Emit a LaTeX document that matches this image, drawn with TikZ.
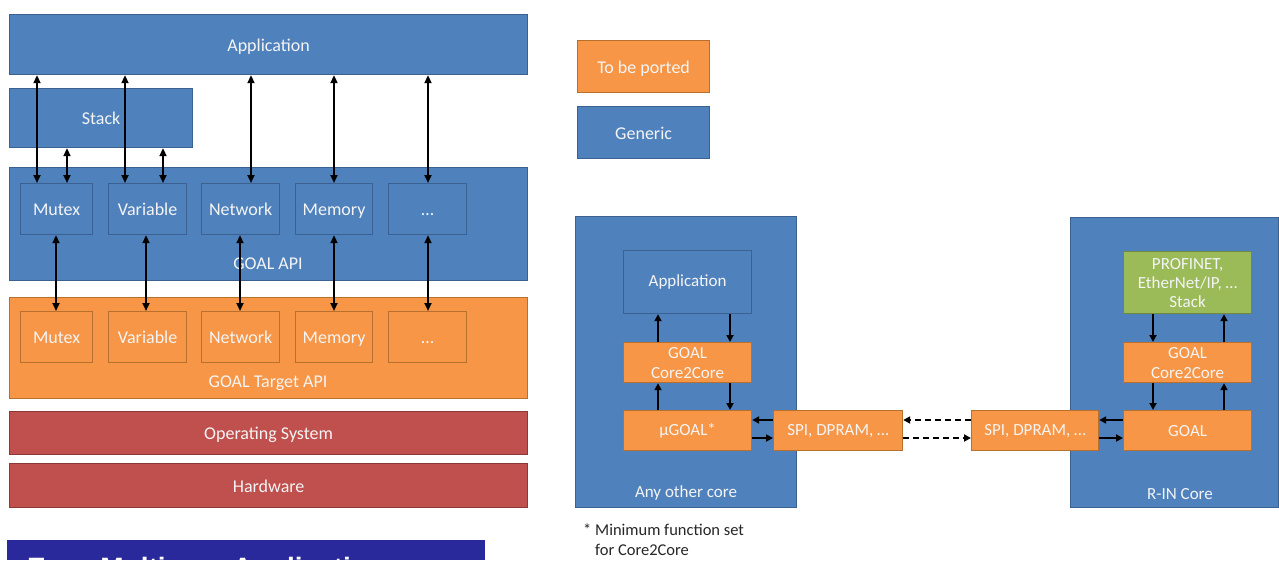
\documentclass[tikz,border=0pt]{standalone}
\usepackage{fontspec}
\setmainfont{Carlito}
\newfontfamily\titlefont{Liberation Sans}
\usetikzlibrary{arrows.meta,calc}
\definecolor{gblue}{HTML}{4F81BD}
\definecolor{gblueD}{HTML}{3A6190}
\definecolor{gorange}{HTML}{F79646}
\definecolor{gorangeD}{HTML}{B8702F}
\definecolor{gred}{HTML}{C0504D}
\definecolor{gredD}{HTML}{8C3836}
\definecolor{ggreen}{HTML}{9BBB59}
\definecolor{ggreenD}{HTML}{71893F}
\definecolor{gnavy}{HTML}{29299B}
\definecolor{gtext}{HTML}{F4F4F4}
\newcommand\mybox[7]{\node[#1, minimum width={#5-#3}, minimum height={#6-#4}] (#2) at (#3,#4) {#7};}
\begin{document}
\begin{tikzpicture}[x=1pt,y=-1pt,
 base/.style={anchor=north west, inner sep=0pt, text=gtext, line width=1.2pt, align=center},
 blueb/.style={base, fill=gblue, draw=gblueD},
 orangeb/.style={base, fill=gorange, draw=gorangeD},
 redb/.style={base, fill=gred, draw=gredD},
 greenb/.style={base, fill=ggreen, draw=ggreenD},
 big/.style={font=\fontsize{18}{21}\selectfont, text height=15pt, text depth=2pt},
 small/.style={font=\fontsize{17}{21}\selectfont},
 lbl/.style={text=gtext, inner sep=0pt},
 dbl/.style={{Triangle[length=8pt,width=7pt]}-{Triangle[length=8pt,width=7pt]}, line width=2.4pt},
 one/.style={-{Triangle[length=7pt,width=7pt]}, line width=2.3pt},
 dsh/.style={one, dash pattern=on 6pt off 4pt}
]
\useasboundingbox (0,0) rectangle (1279,560);
% ---------- left stack ----------
\mybox{blueb,big}{app}{9}{14}{527}{74}{Application}
\mybox{blueb,big}{stack}{9}{88}{192}{147}{Stack}
\mybox{blueb}{api}{9}{167}{527}{280}{}
\node[lbl,big] (apil) at (268,263) {GOAL API};
\mybox{blueb,big}{am}{20}{183}{92}{234}{Mutex}
\mybox{blueb,big}{av}{108}{183}{186}{234}{Variable}
\mybox{blueb,big}{an}{201}{183}{279}{234}{Network}
\mybox{blueb,big}{amem}{295}{183}{372}{234}{Memory}
\mybox{blueb,big}{ad}{388}{183}{466}{234}{…}
\mybox{orangeb}{tgt}{9}{297}{527}{398}{}
\node[lbl,big] (tgtl) at (268,381) {GOAL Target API};
\mybox{orangeb,big}{tm}{20}{311}{92}{362}{Mutex}
\mybox{orangeb,big}{tv}{108}{311}{186}{362}{Variable}
\mybox{orangeb,big}{tn}{201}{311}{279}{362}{Network}
\mybox{orangeb,big}{tmem}{295}{311}{372}{362}{Memory}
\mybox{orangeb,big}{td}{388}{311}{466}{362}{…}
\mybox{redb,big}{os}{9}{411}{527}{454}{Operating System}
\mybox{redb,big}{hw}{9}{463}{527}{507}{Hardware}
% title bar (cut off at the bottom edge)
\node[anchor=north west, fill=gnavy, inner sep=0pt, minimum width=478, minimum height=20] (title) at (7,540) {};
\begin{scope}
\clip (title.north west) rectangle (title.south east);
\node[anchor=base west, inner sep=0pt, text=white, font=\titlefont\bfseries\fontsize{28}{30}\selectfont] (titlet) at (27,577) {Easy Multicore Applications};
\end{scope}
% arrows: application <-> api
\draw[dbl] ($(am.north west)+(17,0)$) -- ($(am.north west |- app.south)+(17,0)$);
\draw[dbl] ($(av.north west)+(17,0)$) -- ($(av.north west |- app.south)+(17,0)$);
\draw[dbl] ($(an.north west)+(50,0)$) -- ($(an.north west |- app.south)+(50,0)$);
\draw[dbl] ($(amem.north west)+(39,0)$) -- ($(amem.north west |- app.south)+(39,0)$);
\draw[dbl] ($(ad.north west)+(40,0)$) -- ($(ad.north west |- app.south)+(40,0)$);
% stack <-> api
\draw[dbl] ($(am.north west)+(47,0)$) -- ($(am.north west |- stack.south)+(47,0)$);
\draw[dbl] ($(av.north west)+(55,0)$) -- ($(av.north west |- stack.south)+(55,0)$);
% api <-> target
\draw[dbl] ($(am.south west)+(36,0)$) -- ($(tm.north west)+(36,0)$);
\draw[dbl] ($(av.south west)+(38,0)$) -- ($(tv.north west)+(38,0)$);
\draw[dbl] ($(an.south west)+(39,0)$) -- ($(tn.north west)+(39,0)$);
\draw[dbl] ($(amem.south west)+(39,0)$) -- ($(tmem.north west)+(39,0)$);
\draw[dbl] ($(ad.south west)+(40,0)$) -- ($(td.north west)+(40,0)$);
% ---------- legend ----------
\mybox{orangeb,big}{port}{577}{40}{709}{92}{To be ported}
\mybox{blueb,big}{gen}{577}{106}{709}{158}{Generic}
% ---------- any other core ----------
\mybox{blueb}{coreL}{575}{216}{796}{507}{}
\node[lbl,small] (coreLl) at (686,493) {Any other core};
\mybox{blueb,small}{app2}{623}{250}{751}{313}{Application}
\mybox{orangeb,small}{c2cL}{623}{342}{751}{382}{GOAL\\[-1pt]Core2Core}
\mybox{orangeb,small}{ugoal}{623}{410}{751}{450}{µGOAL*}
\mybox{orangeb,small}{spiL}{773}{410}{902}{450}{SPI, DPRAM, …}
% ---------- R-IN core ----------
\mybox{blueb}{coreR}{1070}{217}{1278}{507}{}
\node[lbl,small] (coreRl) at (1180,494) {R-IN Core};
\mybox{greenb,small}{pn}{1123}{251}{1251}{313}{PROFINET,\\[-2pt]EtherNet/IP, …\\[-2pt]Stack}
\mybox{orangeb,small}{c2cR}{1123}{342}{1251}{382}{GOAL\\[-1pt]Core2Core}
\mybox{orangeb,small}{goal}{1123}{410}{1251}{450}{GOAL}
\mybox{orangeb,small}{spiR}{971}{410}{1098}{450}{SPI, DPRAM, …}
% footnote
\node[anchor=north west, inner sep=0pt, align=left, text=black!85, font=\fontsize{16.5}{20}\selectfont] (fn) at (583,524) {* Minimum function set\\\phantom{* }for Core2Core};
% arrows left core
\draw[one] ($(c2cL.north west)+(35,0)$) -- ($(app2.south west)+(35,0)$);
\draw[one] ($(app2.south west)+(107,0)$) -- ($(c2cL.north west)+(107,0)$);
\draw[one] ($(ugoal.north west)+(35,0)$) -- ($(c2cL.south west)+(35,0)$);
\draw[one] ($(c2cL.south west)+(107,0)$) -- ($(ugoal.north west)+(107,0)$);
\draw[one] ($(spiL.north west)+(0,10)$) -- ($(ugoal.north east)+(0,10)$);
\draw[one] ($(ugoal.north east)+(0,28)$) -- ($(spiL.north west)+(0,28)$);
% dashed between SPI boxes
\draw[dsh] ($(spiR.north west)+(0,10)$) -- ($(spiL.north east)+(0,10)$);
\draw[dsh] ($(spiL.north east)+(0,28)$) -- ($(spiR.north west)+(0,28)$);
% arrows right core
\draw[one] ($(goal.north west)+(0,10)$) -- ($(spiR.north east)+(0,10)$);
\draw[one] ($(spiR.north east)+(0,28)$) -- ($(goal.north west)+(0,28)$);
\draw[one] ($(pn.south west)+(30,0)$) -- ($(c2cR.north west)+(30,0)$);
\draw[one] ($(c2cR.north west)+(101,0)$) -- ($(pn.south west)+(101,0)$);
\draw[one] ($(c2cR.south west)+(30,0)$) -- ($(goal.north west)+(30,0)$);
\draw[one] ($(goal.north west)+(101,0)$) -- ($(c2cR.south west)+(101,0)$);
\end{tikzpicture}
\end{document}
